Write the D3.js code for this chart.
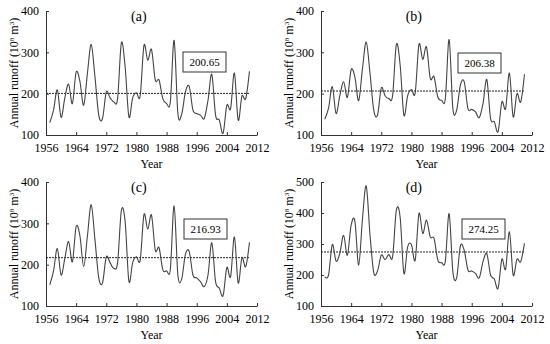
<!DOCTYPE html>
<html>
<head>
<meta charset="utf-8">
<script src="https://cdn.jsdelivr.net/npm/d3@7"></script>
<style>
  body { margin: 0; background: #fff; }
  svg text { font-family: "Times New Roman", "Liberation Serif", Times, serif; fill: #000; }
</style>
</head>
<body>
<div id="chart"></div>
<script>
// annual runoff, 1957-2010
const years = d3.range(1957, 2011);

const runoffA = [130, 160, 209, 143, 190, 223, 176, 252, 230, 172, 250, 319, 240, 148, 140, 204, 190, 180, 188, 323,
  265, 144, 190, 202, 195, 317, 281, 307, 233, 233, 188, 176, 180, 329, 152, 150, 204, 218, 160, 152,
  148, 140, 184, 247, 148, 136, 104, 172, 164, 250, 136, 194, 188, 254];
const runoffB = [138, 165, 217, 152, 195, 229, 191, 258, 240, 183, 260, 325, 250, 160, 148, 214, 195, 188, 195, 319,
  270, 148, 195, 210, 202, 319, 283, 313, 237, 241, 192, 184, 188, 331, 164, 160, 221, 229, 164, 162,
  156, 142, 176, 234, 140, 132, 108, 180, 164, 250, 144, 200, 180, 247];
const runoffC = [151, 185, 239, 175, 215, 256, 207, 292, 270, 195, 270, 345, 260, 168, 156, 219, 205, 191, 205, 331,
  305, 160, 205, 219, 211, 321, 286, 320, 235, 241, 188, 185, 189, 342, 175, 165, 225, 232, 175, 168,
  159, 147, 175, 253, 159, 143, 125, 193, 171, 267, 156, 217, 195, 254];
const runoffD = [194, 200, 298, 245, 270, 328, 264, 361, 373, 232, 380, 487, 330, 208, 213, 264, 250, 266, 259, 409,
  387, 205, 291, 298, 248, 398, 334, 377, 323, 318, 248, 240, 245, 398, 210, 191, 294, 280, 216, 213,
  205, 191, 243, 269, 200, 187, 157, 251, 219, 339, 200, 251, 243, 302];

const means = [200.65, 206.38, 216.93, 274.25];
const labels = ["(a)", "(b)", "(c)", "(d)"];
const yDomains = [[100, 400], [100, 400], [100, 400], [100, 500]];
const yTickSets = [[100, 200, 300, 400], [100, 200, 300, 400], [100, 200, 300, 400], [100, 200, 300, 400, 500]];
const xTicks = [1956, 1964, 1972, 1980, 1988, 1996, 2004, 2012];

const width = 550, height = 344;
const serif = "'Times New Roman', 'Liberation Serif', Times, serif";

const panels = [
  { data: runoffA, left: 46,  top: 11,  box: [183, 52] },
  { data: runoffB, left: 321, top: 11,  box: [458, 53] },
  { data: runoffC, left: 46,  top: 182, box: [184, 219] },
  { data: runoffD, left: 321, top: 182, box: [462, 219] }
];
const plotW = 211, plotH = 124;

const svg = d3.select("#chart")
  .append("svg")
  .attr("width", width)
  .attr("height", height)
  .attr("font-family", serif);

panels.forEach(function (p, i) {
  const g = svg.append("g").attr("transform", `translate(${p.left}, ${p.top})`);

  const x = d3.scaleLinear().domain([1956, 2012]).range([0, plotW]);
  const y = d3.scaleLinear().domain(yDomains[i]).range([plotH, 0]);

  // axes, ticks point inward
  g.append("g")
    .attr("transform", `translate(0, ${plotH})`)
    .call(d3.axisBottom(x).tickValues(xTicks).tickFormat(d3.format("d")).tickSizeInner(-3).tickSizeOuter(0).tickPadding(8))
    .attr("font-family", serif)
    .call(ax => ax.selectAll("text").style("font-size", "12px"))
    .call(ax => ax.select(".domain").attr("stroke", "#333"))
    .call(ax => ax.selectAll(".tick line").attr("stroke", "#333"));

  g.append("g")
    .call(d3.axisLeft(y).tickValues(yTickSets[i]).tickSizeInner(-3).tickSizeOuter(0).tickPadding(7))
    .attr("font-family", serif)
    .call(ax => ax.selectAll("text").style("font-size", "12px"))
    .call(ax => ax.select(".domain").attr("stroke", "#333"))
    .call(ax => ax.selectAll(".tick line").attr("stroke", "#333"));

  // mean line
  g.append("line")
    .attr("x1", x(1956)).attr("x2", x(2010))
    .attr("y1", y(means[i])).attr("y2", y(means[i]))
    .attr("stroke", "#222")
    .attr("stroke-width", 1)
    .attr("stroke-dasharray", "2,1");

  // runoff curve
  const line = d3.line()
    .x((d, j) => x(years[j]))
    .y(d => y(d))
    .curve(d3.curveCardinal);

  g.append("path")
    .datum(p.data)
    .attr("fill", "none")
    .attr("stroke", "#444")
    .attr("stroke-width", 1.1)
    .attr("d", line);

  // panel label
  g.append("text")
    .attr("x", plotW * 0.44)
    .attr("y", 10)
    .attr("text-anchor", "middle")
    .style("font-size", "14px")
    .text(labels[i]);

  // axis titles
  g.append("text")
    .attr("x", plotW * 0.5)
    .attr("y", plotH + 33)
    .attr("text-anchor", "middle")
    .style("font-size", "12px")
    .text("Year");

  const yl = g.append("text")
    .attr("transform", `translate(-28, ${plotH / 2}) rotate(-90)`)
    .attr("text-anchor", "middle")
    .style("font-size", "12px");
  yl.append("tspan").text("Annual runoff (10");
  yl.append("tspan").attr("dy", -4).style("font-size", "7px").text("8");
  yl.append("tspan").attr("dy", 4).text(" m");
  yl.append("tspan").attr("dy", -4).style("font-size", "7px").text("3");
  yl.append("tspan").attr("dy", 4).text(")");

  // mean value box
  const bx = p.box[0] - p.left, by = p.box[1] - p.top;
  g.append("rect")
    .attr("x", bx).attr("y", by)
    .attr("width", 43).attr("height", 20)
    .attr("fill", "#fff")
    .attr("stroke", "#333")
    .attr("stroke-width", 1);
  g.append("text")
    .attr("x", bx + 21.5)
    .attr("y", by + 14)
    .attr("text-anchor", "middle")
    .style("font-size", "11px")
    .text(means[i].toFixed(2));
});
</script>
</body>
</html>
